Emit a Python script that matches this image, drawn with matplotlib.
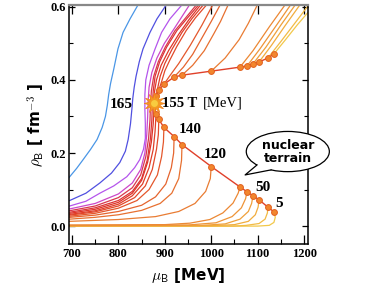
import matplotlib
matplotlib.use("Agg")
import matplotlib.pyplot as plt
from matplotlib.patches import Ellipse, Polygon
from matplotlib.ticker import MultipleLocator, FuncFormatter
import numpy as np

plt.rcParams["mathtext.fontset"] = "cm"

# first-order transition points: T [MeV], mu_c, rho on the hadron side, rho on the dense side
TEMPS = [5, 20, 30, 40, 50, 60, 120, 130, 140, 145, 150, 153]
MU_C = [1135, 1122, 1103, 1090, 1077, 1062, 1000, 937, 920, 898, 887, 881]
RHO_LOW = [0.039, 0.052, 0.072, 0.083, 0.094, 0.107, 0.163, 0.223, 0.245, 0.270, 0.292, 0.306]
RHO_HIGH = [0.471, 0.460, 0.449, 0.444, 0.438, 0.435, 0.424, 0.413, 0.408, 0.388, 0.372, 0.355]
CRIT_MU, CRIT_RHO = 877, 0.336

# lower branches (left edge -> transition point, endpoint taken from the lists above)
LOW_5 = [(695, 0.0), (1100, 0.0), (1125, 0.002), (1135, 0.010), (1138, 0.024)]
LOW_20 = [(695, 0.0), (1050, 0.0), (1075, 0.002), (1103, 0.007), (1116, 0.019), (1121, 0.036)]
LOW_30 = [(695, 0.0), (1000, 0.001), (1050, 0.004), (1080, 0.013), (1095, 0.031), (1101, 0.052)]
LOW_40 = [(695, 0.001), (980, 0.002), (1030, 0.006), (1062, 0.019), (1080, 0.040), (1087, 0.062)]
LOW_50 = [(695, 0.002), (950, 0.003), (1010, 0.009), (1045, 0.026), (1065, 0.050), (1074, 0.075)]
LOW_60 = [(695, 0.003), (900, 0.004), (954, 0.008), (997, 0.018), (1025, 0.036), (1047, 0.063), (1058, 0.090)]
LOW_120 = [(695, 0.013), (800, 0.018), (880, 0.026), (930, 0.040), (965, 0.062), (988, 0.095), (998, 0.130)]
LOW_130 = [(695, 0.019), (750, 0.024), (800, 0.031), (850, 0.043), (890, 0.062), (915, 0.090), (930, 0.130), (936, 0.180)]
LOW_140 = [(695, 0.024), (750, 0.030), (800, 0.040), (850, 0.057), (880, 0.080), (902, 0.115), (914, 0.160), (919, 0.200)]
LOW_145 = [(695, 0.027), (750, 0.035), (800, 0.049), (840, 0.070), (866, 0.100), (884, 0.140), (893, 0.190), (897, 0.230)]
LOW_150 = [(695, 0.030), (750, 0.039), (800, 0.055), (835, 0.078), (858, 0.110), (873, 0.155), (882, 0.210), (886, 0.250)]
LOW_153 = [(695, 0.032), (750, 0.042), (800, 0.060), (830, 0.083), (852, 0.115), (866, 0.160), (875, 0.210), (879, 0.260)]

# upper branches (transition point -> top / right edge)
HIGH_5 = [(1160, 0.510), (1185, 0.550), (1212, 0.590)]
HIGH_20 = [(1150, 0.505), (1180, 0.555), (1210, 0.605)]
HIGH_30 = [(1130, 0.495), (1160, 0.550), (1192, 0.607)]
HIGH_40 = [(1118, 0.490), (1150, 0.550), (1182, 0.607)]
HIGH_50 = [(1105, 0.485), (1138, 0.545), (1172, 0.607)]
HIGH_60 = [(1090, 0.480), (1125, 0.545), (1160, 0.607)]
HIGH_120 = [(1030, 0.460), (1060, 0.510), (1080, 0.555), (1100, 0.607)]
HIGH_130 = [(960, 0.440), (985, 0.480), (1005, 0.525), (1020, 0.560), (1037, 0.607)]
HIGH_140 = [(940, 0.435), (960, 0.470), (980, 0.515), (1000, 0.560), (1020, 0.607)]
HIGH_145 = [(910, 0.410), (930, 0.445), (955, 0.495), (980, 0.550), (1004, 0.607)]
HIGH_150 = [(893, 0.395), (900, 0.425), (911, 0.455), (926, 0.492), (946, 0.535), (966, 0.570), (991, 0.607)]
HIGH_153 = [(885, 0.380), (890, 0.410), (900, 0.445), (916, 0.485), (937, 0.530), (958, 0.567), (984, 0.607)]

# critical isotherm T = 155 and crossover isotherms above it
CRIT_LOW = [(695, 0.035), (750, 0.046), (800, 0.065), (830, 0.090), (850, 0.125), (863, 0.175), (871, 0.230), (875, 0.280)]
CRIT_HIGH = [(878, 0.370), (882, 0.400), (892, 0.440), (908, 0.480), (930, 0.525), (952, 0.565), (978, 0.607)]
CROSS_156 = [(695, 0.038), (750, 0.050), (800, 0.070), (830, 0.095), (850, 0.130), (862, 0.180), (869, 0.240),
             (872, 0.290), (873, 0.330), (875, 0.370), (879, 0.410), (889, 0.450), (904, 0.490), (926, 0.535),
             (949, 0.570), (974, 0.607)]
CROSS_157 = [(695, 0.042), (750, 0.055), (800, 0.078), (830, 0.105), (848, 0.140), (859, 0.190), (865, 0.240),
             (868, 0.290), (869, 0.330), (871, 0.370), (876, 0.410), (886, 0.450), (901, 0.490), (922, 0.535),
             (945, 0.570), (969, 0.607)]
CROSS_158 = [(695, 0.047), (750, 0.062), (800, 0.088), (830, 0.118), (848, 0.155), (857, 0.200), (861, 0.250),
             (863, 0.300), (864, 0.340), (866, 0.380), (872, 0.420), (883, 0.460), (899, 0.500), (920, 0.540),
             (954, 0.607)]
CROSS_160 = [(695, 0.055), (730, 0.068), (760, 0.090), (790, 0.110), (818, 0.135), (835, 0.160), (846, 0.182),
             (854, 0.210), (858, 0.240), (858, 0.280), (857, 0.320), (857, 0.360), (859, 0.400), (866, 0.440),
             (879, 0.485), (893, 0.530), (911, 0.567), (938, 0.607)]
CROSS_162 = [(695, 0.070), (730, 0.090), (760, 0.118), (785, 0.145), (803, 0.174), (815, 0.205), (821, 0.237),
             (826, 0.280), (829, 0.320), (831, 0.350), (834, 0.380), (838, 0.410), (845, 0.450), (853, 0.485),
             (868, 0.530), (883, 0.567), (904, 0.607)]
CROSS_165 = [(693, 0.132), (710, 0.158), (724, 0.182), (740, 0.210), (754, 0.237), (765, 0.270), (772, 0.300),
             (776, 0.330), (779, 0.360), (783, 0.390), (790, 0.430), (799, 0.485), (810, 0.530), (825, 0.567),
             (843, 0.607)]

LOW_BRANCHES = [LOW_5, LOW_20, LOW_30, LOW_40, LOW_50, LOW_60, LOW_120, LOW_130, LOW_140, LOW_145, LOW_150, LOW_153]
HIGH_BRANCHES = [HIGH_5, HIGH_20, HIGH_30, HIGH_40, HIGH_50, HIGH_60, HIGH_120, HIGH_130, HIGH_140, HIGH_145,
                 HIGH_150, HIGH_153]
BRANCH_COLORS = ["#f2c84a", "#f2bb44", "#f1ad3e", "#efa03a", "#ee9437", "#ec8834", "#e97c33", "#e77030",
                 "#e5642e", "#e4572c", "#e2492a", "#e03e29"]
CROSS_CURVES = [CROSS_156, CROSS_157, CROSS_158, CROSS_160, CROSS_162, CROSS_165]
CROSS_COLORS = ["#dc3434", "#d8384a", "#cc48c8", "#b455ec", "#5050e0", "#4a96e6"]

# curve labels (text, mu, rho)
LABELS = [("165", 807, 0.333), ("140", 954, 0.264), ("120", 1009, 0.196), ("50", 1112, 0.105), ("5", 1146, 0.063)]

SERIF = "Liberation Serif"


def xy(points):
    arr = np.array(points, dtype=float)
    return arr[:, 0], arr[:, 1]


fig = plt.figure(figsize=(3.82, 2.86), dpi=100)
ax = fig.add_axes([69 / 382, 42 / 286, 239 / 382, 239 / 286])

lw = 0.9
for i, (low, high) in enumerate(zip(LOW_BRANCHES, HIGH_BRANCHES)):
    mx, my = xy(low + [(MU_C[i], RHO_LOW[i])])
    ax.plot(mx, my, color=BRANCH_COLORS[i], lw=lw, zorder=2)
    mx, my = xy([(MU_C[i], RHO_HIGH[i])] + high)
    ax.plot(mx, my, color=BRANCH_COLORS[i], lw=lw, zorder=2)

mx, my = xy(CRIT_LOW + [(CRIT_MU, CRIT_RHO)] + CRIT_HIGH)
ax.plot(mx, my, color="#de3528", lw=lw, zorder=2)
for curve, col in zip(CROSS_CURVES, CROSS_COLORS):
    mx, my = xy(curve)
    ax.plot(mx, my, color=col, lw=lw, zorder=2)

# transition line through the coexistence points
chain_mu = MU_C + [CRIT_MU] + MU_C[::-1]
chain_rho = RHO_LOW + [CRIT_RHO] + RHO_HIGH[::-1]
ax.plot(chain_mu, chain_rho, color="#e0402a", lw=1.0, zorder=3)
ax.plot(MU_C + MU_C, RHO_LOW + RHO_HIGH, ls="none", marker="o", ms=4.2,
        mfc="#f2862e", mec="#e2601e", mew=0.7, zorder=4)

# critical point
ax.plot(CRIT_MU, CRIT_RHO, marker=(12, 1, 0), ms=15, mfc="#f39a22", mec="#f08020", mew=0.5, zorder=5)
ax.plot(CRIT_MU, CRIT_RHO, marker="o", ms=5, mfc="#f8cc40", mec="none", zorder=6)

for txt, mu, rho in LABELS:
    ax.text(mu, rho, txt, fontsize=11, family=SERIF, fontweight="bold", ha="center", va="center", zorder=6)
ax.text(894, 0.336, "155 T", fontsize=10.5, family=SERIF, fontweight="bold", ha="left", va="center", zorder=6)
ax.text(983, 0.336, "[MeV]", fontsize=10.5, family=SERIF, ha="left", va="center", zorder=6)

# speech bubble
bc_mu, bc_rho, bw, bh = 1165, 0.204, 179, 0.110
ell = Ellipse((bc_mu, bc_rho), bw, bh, facecolor="white", edgecolor="black", lw=0.9, zorder=7, clip_on=False)
ax.add_patch(ell)
th1, th2 = np.radians(222), np.radians(246)
b1 = (bc_mu + bw / 2 * np.cos(th1), bc_rho + bh / 2 * np.sin(th1))
b2 = (bc_mu + bw / 2 * np.cos(th2), bc_rho + bh / 2 * np.sin(th2))
tip = (1073, 0.140)
inner = (bc_mu - 0.25 * bw, bc_rho - 0.15 * bh)
ax.add_patch(Polygon([b1, tip, b2, inner], closed=True, facecolor="white", edgecolor="none",
                     zorder=8, clip_on=False))
ax.plot([b1[0], tip[0], b2[0]], [b1[1], tip[1], b2[1]], color="black", lw=0.9, zorder=9, clip_on=False)
ax.text(bc_mu, bc_rho, "nuclear\nterrain", fontsize=9, fontweight="bold", ha="center", va="center",
        linespacing=1.0, zorder=10, clip_on=False)

ax.set_xlim(693.5, 1208.5)
ax.set_ylim(-0.049, 0.605)

ax.xaxis.set_major_locator(MultipleLocator(100))
ax.xaxis.set_minor_locator(MultipleLocator(50))
ax.yaxis.set_major_locator(MultipleLocator(0.2))
ax.yaxis.set_minor_locator(MultipleLocator(0.1))
ax.xaxis.set_major_formatter(FuncFormatter(lambda v, p: f"{v:.0f}"))
ax.yaxis.set_major_formatter(FuncFormatter(lambda v, p: f"{v:.1f}"))
ax.tick_params(axis="x", which="major", direction="in", length=6.5, width=0.9, top=True, labelsize=9, pad=3)
ax.tick_params(axis="x", which="minor", direction="in", length=3.5, width=0.8, top=False)
ax.tick_params(axis="y", which="major", direction="in", length=4.5, width=0.9, right=True, labelsize=9, pad=2)
ax.tick_params(axis="y", which="minor", direction="in", length=2.8, width=0.8, right=True)
for lab in ax.get_xticklabels() + ax.get_yticklabels():
    lab.set_family(SERIF)
    lab.set_fontweight("bold")

for side in ["left", "bottom", "right"]:
    ax.spines[side].set_linewidth(1.1)
ax.spines["top"].set_color("#888888")
ax.spines["top"].set_linewidth(1.6)

ax.set_xlabel(r"$\mu_{\mathsf{B}}$ [MeV]", fontsize=11, fontweight="bold", labelpad=4)
ax.set_ylabel(r"$\rho_{\mathsf{B}}$ [ fm$^{-3}$ ]", fontsize=11, fontweight="bold", labelpad=3)

fig.savefig("out.png", dpi=100)
